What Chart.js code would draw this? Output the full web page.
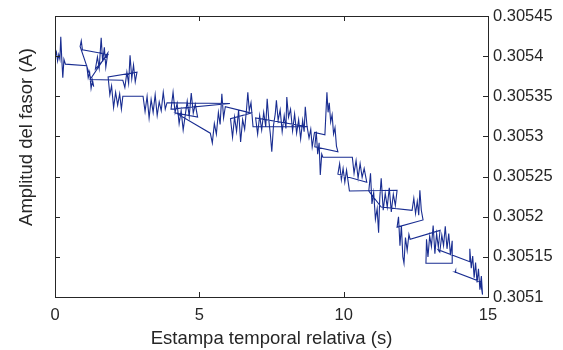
<!DOCTYPE html>
<html>
<head>
<meta charset="utf-8">
<script src="https://cdn.jsdelivr.net/npm/chart.js@4.4.1/dist/chart.umd.min.js"></script>
<style>
  html, body { margin: 0; padding: 0; background: #fff; }
  canvas { display: block; }
</style>
</head>
<body>
<canvas id="fasorChart" width="563" height="350"></canvas>
<script>
// tiempo (s) y amplitud (A), en el orden en que se dibuja la traza
const tiempo = [
  0.00, 0.05, 0.09, 0.13, 0.17, 0.20, 0.23, 0.27, 0.31, 0.36,
  1.10, 1.15, 1.20, 1.25, 1.30, 1.34,
  0.87, 0.91, 0.95, 1.84,
  1.40, 1.47, 1.53, 1.60, 1.65, 1.71, 1.76, 1.83,
  1.22, 2.35, 2.42, 2.49, 2.55, 2.60, 2.66, 2.72, 2.78, 2.84,
  1.84, 1.90, 1.96, 2.03, 2.10, 2.17, 2.24, 2.30, 2.35,
  3.05, 3.12, 3.19, 3.26, 3.33, 3.40, 3.47, 3.54, 3.61, 3.68, 3.75, 3.82, 3.88,
  6.06,
  4.02, 4.09, 4.16, 4.23, 4.30, 4.37, 4.44, 4.51, 4.58, 4.65, 4.72, 4.79, 4.86, 4.94,
  4.20, 5.38,
  5.45, 5.52, 5.59, 5.66, 5.72, 5.78, 5.84, 5.90,
  6.80,
  6.08, 6.15, 6.22, 6.29, 6.36, 6.43, 6.50, 6.57, 6.64, 6.68, 6.73, 6.79, 6.86,
  8.76,
  6.95, 7.02, 7.09, 7.16, 7.23, 7.30, 7.35, 7.41, 7.46, 7.51, 7.57, 7.63, 7.67, 7.73, 7.80, 7.87, 7.94,
  8.00, 8.03, 8.09, 8.16, 8.23, 8.30, 8.37, 8.44, 8.51, 8.58, 8.63, 8.67, 8.73, 8.80, 8.86, 8.91, 8.99,
  9.35, 9.42, 9.46, 9.50, 9.55, 9.60, 9.65, 9.70, 9.75, 9.80,
  9.00, 9.05, 9.10, 9.15, 9.19, 9.24, 9.28,
  10.30, 10.36, 10.43, 10.50, 10.57, 10.64, 10.71, 10.80,
  9.80, 9.86, 9.92, 9.98, 10.04, 10.10, 10.15, 10.20,
  11.85, 11.79, 11.72, 11.65, 11.58, 11.51, 11.44, 11.37, 11.30, 11.25, 11.21, 11.16, 11.10, 11.04, 10.98, 10.93, 10.87,
  11.30, 12.37, 12.43, 12.49, 12.55, 12.60, 12.64, 12.69, 12.75,
  11.85, 11.90, 11.95, 12.00, 12.05, 12.09, 12.14, 12.20, 12.26, 12.30,
  13.34, 13.28, 13.22, 13.16, 13.10, 13.04, 12.98, 12.92, 12.87, 12.85,
  13.78, 13.76, 13.70, 13.64, 13.58, 13.52, 13.46, 13.40, 13.33, 13.27,
  14.37, 14.37, 14.42, 14.47, 14.52, 14.57, 14.62, 14.67, 14.72, 14.77, 14.81, 14.74,
  13.86, 13.88, 13.85
];

const amplitud = [
  0.305399, 0.305405, 0.305394, 0.305402, 0.305396, 0.305424, 0.305400, 0.305373, 0.305396, 0.305390,
  0.305388, 0.305373, 0.305380, 0.305360, 0.305370, 0.305362,
  0.305412, 0.305419, 0.305408, 0.305402,
  0.305384, 0.305399, 0.305385, 0.305423, 0.305393, 0.305411, 0.305386, 0.305404,
  0.305371, 0.305370, 0.305361, 0.305380, 0.305366, 0.305401, 0.305372, 0.305389, 0.305368, 0.305380,
  0.305374, 0.305352, 0.305363, 0.305336, 0.305355, 0.305339, 0.305353, 0.305334, 0.305350,
  0.305350, 0.305331, 0.305350, 0.305323, 0.305346, 0.305330, 0.305352, 0.305326, 0.305343, 0.305332, 0.305355, 0.305334, 0.305342,
  0.305341,
  0.305334, 0.305355, 0.305330, 0.305341, 0.305316, 0.305332, 0.305308, 0.305326, 0.305344, 0.305325, 0.305354, 0.305329, 0.305340, 0.305324,
  0.305329, 0.305304,
  0.305292, 0.305316, 0.305303, 0.305330, 0.305315, 0.305353, 0.305323, 0.305337,
  0.305329,
  0.305322, 0.305299, 0.305324, 0.305306, 0.305333, 0.305293, 0.305321, 0.305309, 0.305336, 0.305355, 0.305332, 0.305342, 0.305312,
  0.305312,
  0.305323, 0.305303, 0.305326, 0.305308, 0.305330, 0.305312, 0.305347, 0.305319, 0.305303, 0.305281, 0.305314, 0.305328, 0.305345, 0.305320, 0.305333, 0.305306, 0.305326,
  0.305310, 0.305349, 0.305324, 0.305334, 0.305307, 0.305328, 0.305304, 0.305321, 0.305297, 0.305320, 0.305306, 0.305337, 0.305313, 0.305298, 0.305309, 0.305287, 0.305305,
  0.305302, 0.305355, 0.305330, 0.305342, 0.305318, 0.305327, 0.305303, 0.305311, 0.305288, 0.305281,
  0.305287, 0.305306, 0.305278, 0.305292, 0.305252, 0.305278, 0.305274,
  0.305274, 0.305254, 0.305270, 0.305248, 0.305266, 0.305249, 0.305260, 0.305243,
  0.305253, 0.305266, 0.305246, 0.305260, 0.305243, 0.305258, 0.305245, 0.305232,
  0.305233, 0.305214, 0.305228, 0.305206, 0.305236, 0.305212, 0.305229, 0.305208, 0.305248, 0.305223, 0.305180, 0.305210, 0.305197, 0.305230, 0.305216, 0.305254, 0.305232,
  0.305212, 0.305208, 0.305223, 0.305204, 0.305219, 0.305202, 0.305233, 0.305208, 0.305196,
  0.305187, 0.305200, 0.305164, 0.305189, 0.305150, 0.305142, 0.305174, 0.305158, 0.305178, 0.305172,
  0.305183, 0.305162, 0.305179, 0.305154, 0.305189, 0.305163, 0.305176, 0.305150, 0.305172, 0.305142,
  0.305142, 0.305170, 0.305152, 0.305179, 0.305160, 0.305188, 0.305164, 0.305177, 0.305156, 0.305159,
  0.305144, 0.305160, 0.305136, 0.305151, 0.305124, 0.305143, 0.305118, 0.305135, 0.305109, 0.305126, 0.305103, 0.305119,
  0.305131, 0.305133, 0.305130
];

const ticksX = [0, 5, 10, 15];
const ticksY = [0.3051, 0.30515, 0.3052, 0.30525, 0.3053, 0.30535, 0.3054, 0.30545];
const tituloY = 'Amplitud del fasor (A)';

const fuente = 'Helvetica, "Liberation Sans", Arial, sans-serif';
const gris = '#262626';

// marco del eje, marcas hacia dentro y título del eje izquierdo
const marcoPlugin = {
  id: 'marco',
  afterDraw(chart) {
    const { ctx, chartArea: a, scales } = chart;
    ctx.save();
    ctx.strokeStyle = gris;
    ctx.lineWidth = 1;
    ctx.beginPath();
    ticksX.forEach(v => {
      const px = Math.round(scales.x.getPixelForValue(v)) + 0.5;
      ctx.moveTo(px, a.bottom);
      ctx.lineTo(px, a.bottom - 5);
      ctx.moveTo(px, a.top);
      ctx.lineTo(px, a.top + 5);
    });
    ticksY.forEach(v => {
      const py = Math.round(scales.y.getPixelForValue(v)) + 0.5;
      ctx.moveTo(a.left, py);
      ctx.lineTo(a.left + 5, py);
      ctx.moveTo(a.right, py);
      ctx.lineTo(a.right - 5, py);
    });
    ctx.stroke();
    ctx.strokeRect(a.left + 0.5, a.top + 0.5, a.right - a.left, a.bottom - a.top);

    // el título queda algo por encima del centro del eje, como en el original
    ctx.translate(27, 137);
    ctx.rotate(-Math.PI / 2);
    ctx.fillStyle = gris;
    ctx.font = '18.5px ' + fuente;
    ctx.textAlign = 'center';
    ctx.textBaseline = 'middle';
    ctx.fillText(tituloY, 0, 0);
    ctx.restore();
  }
};

const ctx = document.getElementById('fasorChart').getContext('2d');
const fasorChart = new Chart(ctx, {
  type: 'scatter',
  data: {
    datasets: [{
      data: tiempo.map((t, i) => ({ x: t, y: amplitud[i] })),
      showLine: true,
      borderColor: 'rgb(25, 45, 145)',
      borderWidth: 1.1,
      pointRadius: 0,
      tension: 0,
      xAxisID: 'x',
      yAxisID: 'y'
    }]
  },
  options: {
    responsive: false,
    animation: false,
    layout: { padding: { top: 16, left: 0, right: 0, bottom: 0 } },
    plugins: {
      legend: { display: false },
      tooltip: { enabled: false }
    },
    scales: {
      x: {
        type: 'linear',
        position: 'bottom',
        min: 0,
        max: 15,
        afterBuildTicks: s => { s.ticks = ticksX.map(v => ({ value: v })); },
        afterFit: s => { s.height = 53; },
        grid: { display: false, drawTicks: false },
        border: { display: false },
        ticks: {
          color: gris,
          font: { family: fuente, size: 16.5 },
          padding: 9,
          maxRotation: 0,
          autoSkip: false
        },
        title: {
          display: true,
          text: 'Estampa temporal relativa (s)',
          color: gris,
          font: { family: fuente, size: 18.5 },
          padding: { top: 0, bottom: 0 }
        }
      },
      y: {
        type: 'linear',
        position: 'right',
        min: 0.3051,
        max: 0.30545,
        afterBuildTicks: s => { s.ticks = ticksY.map(v => ({ value: v })); },
        afterFit: s => { s.width = 75; },
        grid: { display: false, drawTicks: false },
        border: { display: false },
        ticks: {
          color: gris,
          font: { family: fuente, size: 16.5 },
          padding: 5,
          autoSkip: false,
          callback: v => String(v)
        }
      },
      yIzq: {
        type: 'linear',
        position: 'left',
        min: 0.3051,
        max: 0.30545,
        afterFit: s => { s.width = 55; },
        grid: { display: false, drawTicks: false },
        border: { display: false },
        ticks: { display: false },
        title: { display: false }
      }
    }
  },
  plugins: [marcoPlugin]
});
</script>
</body>
</html>
